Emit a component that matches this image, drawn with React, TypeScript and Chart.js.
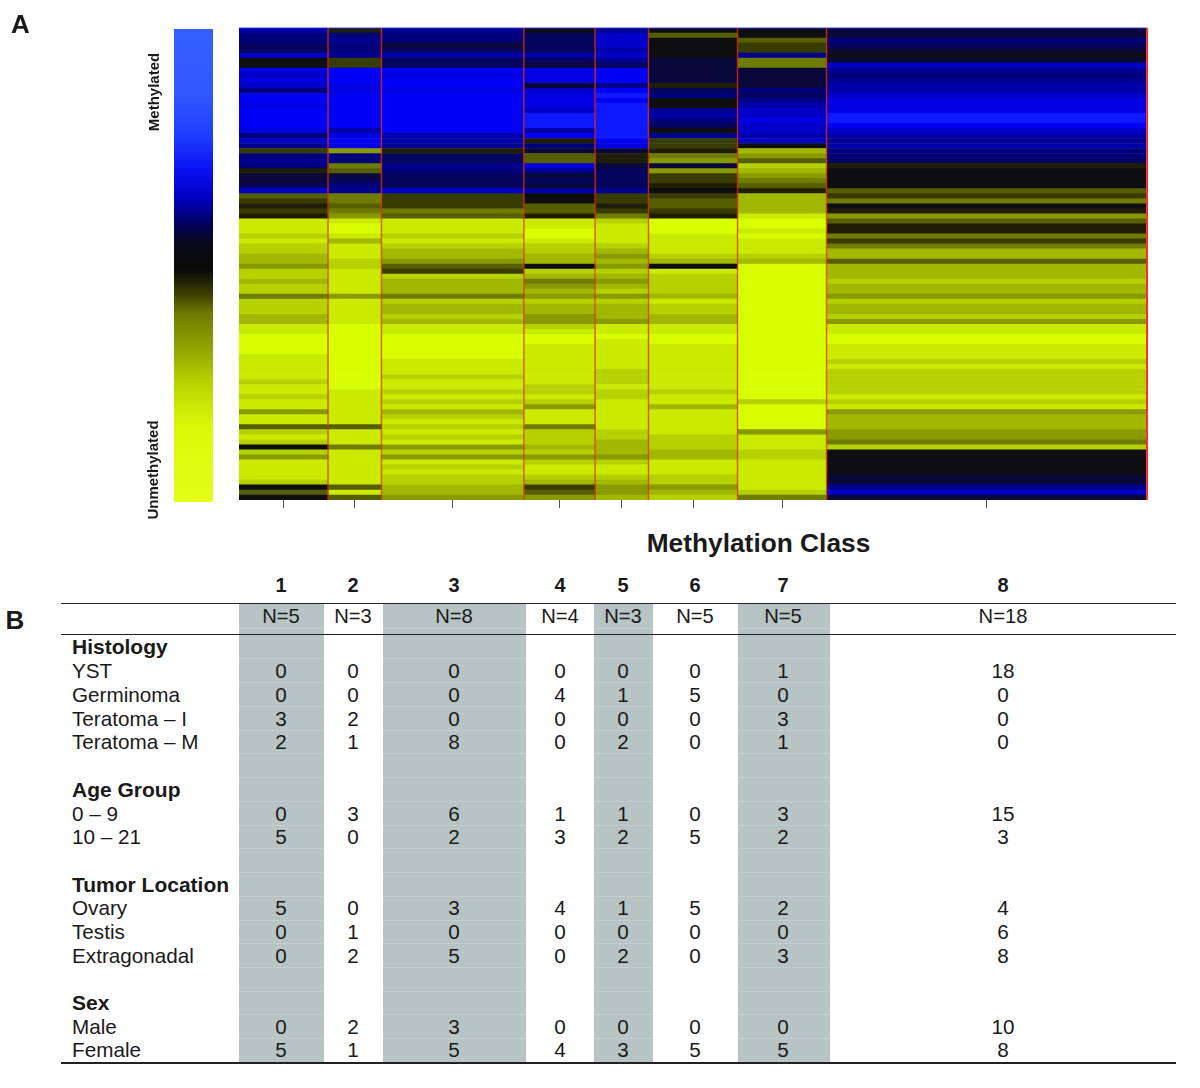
import React, { useEffect, useRef } from "react";
import { Chart, registerables } from "chart.js";

Chart.register(...registerables);

const classNames = ["1", "2", "3", "4", "5", "6", "7", "8"];
const classSizes = [5, 3, 8, 4, 3, 5, 5, 18];

// methylation level per band, top to bottom: + blue (methylated), - yellow (unmethylated)
const class1 = [
  5,3,3,2,2,6,0,0,7,6, 7,6,3,8,8,7,8,8,8,8, 7,3,6,4,-2,3,4,3,-1,1, 1,2,6,-3,-2,-1,-2,-1,-8,-8,
  -8,-7,-8,-7,-7,-6,-6,-5,-7,-7, -6,-7,-7,-4,-7,-7,-7,-6,-6,-8, -8,-9,-9,-9,-9,-8,-8,-8,-8,-8,
  -7,-8,-8,-7,-8,-8,-5,-8,-8,-3, -7,-8,-7,0,-7,-5,-8,-8,-8,-8, -7,0,-3,0,
];
const class2 = [
  -1,3,4,3,3,4,-2,-2,8,8, 8,7,7,8,8,8,8,8,8,8, 5,7,8,7,-5,3,3,-4,-3,1, 2,3,4,-4,-4,-3,-4,-5,-8,-9,
  -9,-8,-6,-8,-8,-8,-7,-7,-8,-8, -8,-8,-8,-5,-8,-8,-8,-8,-8,-9, -9,-9,-9,-9,-9,-9,-9,-9,-9,-9,
  -9,-9,-8,-8,-8,-8,-8,-8,-8,-3, -8,-8,-8,-4,-8,-8,-8,-8,-8,-8, -8,-3,-8,-3,
];
const class3 = [
  4,3,3,1,2,5,2,2,8,7, 8,8,7,8,8,8,8,8,8,8, 8,5,5,4,-1,2,2,4,3,2, 2,2,6,-2,-2,-2,-4,-3,-8,-8,
  -8,-7,-8,-7,-6,-6,-5,-3,-2,-7, -6,-6,-6,-4,-7,-6,-6,-7,-6,-8, -8,-9,-9,-9,-9,-9,-8,-8,-8,-7,
  -8,-8,-7,-8,-7,-8,-6,-7,-8,-7, -8,-7,-8,-5,-7,-5,-8,-7,-8,-7, -7,-6,-6,-5,
];
const class4 = [
  0,2,2,2,2,5,2,1,7,7, 7,1,6,7,7,7,6,9,9,9, 5,8,-1,3,1,-3,-3,7,4,1, 2,1,5,0,0,-3,-3,-1,-8,-8,
  -9,-9,-8,-7,-7,-6,-6,0,-7,-6, -4,-5,-6,-5,-7,-6,-6,-5,-5,-7, -8,-9,-9,-8,-8,-8,-8,-8,-8,-8,
  -8,-7,-7,-8,-7,-5,-8,-8,-8,-4, -7,-7,-7,-6,-7,-5,-7,-8,-8,-7, -6,-2,-3,-5,
];
const class5 = [
  4,6,6,6,5,6,4,2,8,8, 8,4,8,9,8,9,9,9,9,9, 9,9,8,7,1,-1,-1,1,2,2, 2,2,4,-2,-2,-1,-2,-4,-7,-8,
  -8,-8,-8,-7,-6,-5,-6,-5,-7,-6, -5,-6,-7,-5,-7,-6,-6,-6,-5,-8, -8,-9,-8,-8,-8,-8,-8,-8,-7,-7,
  -7,-8,-7,-7,-8,-8,-8,-8,-8,-8, -7,-7,-6,-6,-6,-5,-7,-8,-8,-7, -6,-5,-5,-6,
];
const class6 = [
  0,-3,0,0,0,0,1,1,1,1, 1,-1,2,3,0,0,4,5,3,2, 0,4,-2,-2,-1,-4,-5,1,-5,-2, -2,-1,0,-2,-3,-3,-2,-1,-9,-9,
  -9,-8,-8,-8,-8,-7,-6,0,-8,-7, -7,-7,-7,-6,-8,-7,-7,-6,-6,-8, -8,-9,-9,-8,-8,-8,-8,-8,-8,-8,
  -8,-8,-7,-8,-8,-6,-8,-8,-8,-8, -8,-7,-7,-7,-6,-6,-8,-8,-8,-7, -7,-5,-6,-7,
];
const class7 = [
  0,0,-3,-2,-2,4,-4,-4,1,1, 1,1,3,2,4,5,6,6,7,6, 6,5,6,0,-6,-5,-3,-7,-6,-5, -4,-3,-1,-6,-6,-6,-6,-8,-9,-9,
  -8,-9,-8,-8,-8,-7,-6,-9,-9,-9, -9,-9,-9,-9,-9,-9,-9,-9,-9,-9, -9,-9,-9,-9,-9,-9,-9,-9,-9,-9,
  -9,-9,-9,-9,-7,-9,-9,-9,-9,-9, -5,-8,-8,-8,-7,-7,-8,-8,-8,-8, -8,-8,-7,-4,
];
const class8 = [
  1,1,3,2,1,0,1,6,4,3, 4,5,5,6,7,7,7,9,9,8, 6,5,4,5,3,3,2,-1,0,0, 0,0,-3,-2,-4,0,-1,-5,-3,-1,
  -1,-4,-2,-4,-6,-6,-3,-6,-6,-6, -7,-6,-6,-5,-7,-6,-6,-7,-5,-8, -8,-9,-9,-8,-8,-8,-7,-8,-7,-7,
  -7,-7,-7,-8,-7,-8,-5,-6,-6,-6, -5,-5,-4,-7,0,0,0,0,0,1, 1,4,6,1,
];
const classLevels = [class1, class2, class3, class4, class5, class6, class7, class8];

const blueRamp = ["#0e0e10","#08083a","#05055e","#00007c","#00008f","#0000aa","#0000c8","#0000e0","#0000f5","#0f19ff"];
const yellowRamp = ["#0e0e10","#1e1e05","#373c00","#555f00","#6e7d00","#879b00","#a0b900","#b4d200","#c8eb00","#d8ff00"];
const colourOf = (v: number) => (v >= 0 ? blueRamp[v] : yellowRamp[-v]);

const colourbarStops: [number, string][] = [
  [0, "#3560ff"], [0.14, "#2f58ff"], [0.22, "#1f40ff"], [0.3, "#0a10f0"], [0.36, "#0000c0"],
  [0.41, "#000060"], [0.45, "#080820"], [0.49, "#0a0a0a"], [0.51, "#0a0a0a"], [0.56, "#3a4000"],
  [0.6, "#6a7a00"], [0.68, "#92a800"], [0.75, "#b8d400"], [0.84, "#dcf808"], [1, "#e4ff18"],
];

// table
const tableHeaderSizes = classSizes.map((n) => `N=${n}`);
const yst = [0, 0, 0, 0, 0, 0, 1, 18];
const germinoma = [0, 0, 0, 4, 1, 5, 0, 0];
const teratomaI = [3, 2, 0, 0, 0, 0, 3, 0];
const teratomaM = [2, 1, 8, 0, 2, 0, 1, 0];
const age0to9 = [0, 3, 6, 1, 1, 0, 3, 15];
const age10to21 = [5, 0, 2, 3, 2, 5, 2, 3];
const ovary = [5, 0, 3, 4, 1, 5, 2, 4];
const testis = [0, 1, 0, 0, 0, 0, 0, 6];
const extragonadal = [0, 2, 5, 0, 2, 0, 3, 8];
const male = [0, 2, 3, 0, 0, 0, 0, 10];
const female = [5, 1, 5, 4, 3, 5, 5, 8];

const tableRows: { label: string; y: number; values?: number[] }[] = [
  { label: "Histology", y: 646 },
  { label: "YST", y: 671, values: yst },
  { label: "Germinoma", y: 695, values: germinoma },
  { label: "Teratoma – I", y: 718.5, values: teratomaI },
  { label: "Teratoma – M", y: 742, values: teratomaM },
  { label: "Age Group", y: 789 },
  { label: "0 – 9", y: 813.5, values: age0to9 },
  { label: "10 – 21", y: 837, values: age10to21 },
  { label: "Tumor Location", y: 883.5 },
  { label: "Ovary", y: 908, values: ovary },
  { label: "Testis", y: 932, values: testis },
  { label: "Extragonadal", y: 955.5, values: extragonadal },
  { label: "Sex", y: 1001.5 },
  { label: "Male", y: 1026.5, values: male },
  { label: "Female", y: 1050, values: female },
];
const columnCentres = [281, 353, 454, 560, 623, 695, 783, 1003];
const shadedColumns = [[239, 324], [383, 526], [594, 653], [738, 830]];
const shadeSeams = [628, 658, 682, 706, 730, 753, 777, 801, 825, 848, 872, 896, 920, 943, 967, 991, 1014, 1038];

const FONT = '"Liberation Sans", Arial, sans-serif';

const classBoundaries = classSizes.reduce<number[]>((acc, n) => {
  acc.push((acc[acc.length - 1] ?? 0) + n);
  return acc;
}, []);
const classCentres = classSizes.map((n, i) => (classBoundaries[i] - n) + n / 2);

const separators = {
  id: "classSeparators",
  afterDatasetsDraw(chart: any) {
    const { ctx, chartArea, scales } = chart;
    ctx.save();
    classBoundaries.forEach((b, i) => {
      const x = scales.x.getPixelForValue(b);
      const last = i === classBoundaries.length - 1;
      ctx.strokeStyle = last ? "rgba(255,45,45,1)" : "rgba(235,45,0,0.8)";
      ctx.lineWidth = last ? 2 : 1.4;
      ctx.beginPath();
      ctx.moveTo(x, chartArea.top);
      ctx.lineTo(x, chartArea.bottom);
      ctx.stroke();
    });
    ctx.strokeStyle = "rgba(50,50,255,0.9)";
    ctx.lineWidth = 1;
    ctx.beginPath();
    ctx.moveTo(chartArea.left, chartArea.top);
    ctx.lineTo(chartArea.right, chartArea.top);
    ctx.stroke();
    ctx.restore();
  },
};

function Label({ x, y, size, bold, children, anchor = "center", rotate }: any) {
  const tx = anchor === "center" ? "-50%" : "0";
  return (
    <span
      style={{
        position: "absolute",
        left: x,
        top: y,
        fontFamily: FONT,
        fontSize: size,
        fontWeight: bold ? 700 : 400,
        lineHeight: 1,
        color: "#1a1a1a",
        whiteSpace: "nowrap",
        transform: `translate(${tx},-50%)${rotate ? ` rotate(${rotate}deg)` : ""}`,
      }}
    >
      {children}
    </span>
  );
}

export default function App() {
  const heatRef = useRef<HTMLCanvasElement>(null);
  const barRef = useRef<HTMLCanvasElement>(null);

  useEffect(() => {
    const rows = class1.map((_, i) => String(i));
    const heat = new Chart(heatRef.current!, {
      type: "bar",
      data: {
        labels: rows,
        datasets: classNames.map((name, c) => ({
          label: name,
          data: rows.map(() => classSizes[c]),
          backgroundColor: classLevels[c].map(colourOf),
          borderWidth: 0,
          categoryPercentage: 1,
          barPercentage: 1,
        })),
      },
      options: {
        indexAxis: "y",
        responsive: false,
        animation: false,
        events: [],
        layout: { padding: { left: 239, right: 53, top: 28, bottom: 12 } },
        plugins: { legend: { display: false }, tooltip: { enabled: false } },
        scales: {
          x: {
            type: "linear",
            stacked: true,
            min: 0,
            max: 51,
            border: { display: false },
            grid: { drawOnChartArea: false, drawTicks: true, tickLength: 8, color: "#555", lineWidth: 1 },
            ticks: { display: false, autoSkip: false },
            afterBuildTicks: (axis: any) => {
              axis.ticks = classCentres.map((value) => ({ value }));
            },
            afterFit: (axis: any) => {
              axis.height = 8;
            },
          },
          y: { type: "category", stacked: true, display: false },
        },
      },
      plugins: [separators],
    } as any);

    const bar = new Chart(barRef.current!, {
      type: "bar",
      data: {
        labels: ["scale"],
        datasets: [
          {
            data: [1],
            borderWidth: 0,
            categoryPercentage: 1,
            barPercentage: 1,
            backgroundColor: (ctx: any) => {
              const area = ctx.chart.chartArea;
              if (!area) return "#000";
              const g = ctx.chart.ctx.createLinearGradient(0, area.top, 0, area.bottom);
              colourbarStops.forEach(([o, c]) => g.addColorStop(o, c));
              return g;
            },
          },
        ],
      },
      options: {
        responsive: false,
        animation: false,
        events: [],
        plugins: { legend: { display: false }, tooltip: { enabled: false } },
        scales: {
          x: { display: false },
          y: { display: false, min: 0, max: 1 },
        },
      },
    } as any);

    return () => {
      heat.destroy();
      bar.destroy();
    };
  }, []);

  return (
    <div style={{ position: "absolute", left: 0, top: 0, width: 1200, height: 1088, background: "#fff", overflow: "hidden" }}>
      <canvas ref={heatRef} width={1200} height={520} style={{ position: "absolute", left: 0, top: 0 }} />
      <canvas ref={barRef} width={39} height={473} style={{ position: "absolute", left: 174, top: 29 }} />

      <Label x={20.5} y={24} size={26} bold>A</Label>
      <Label x={15} y={620} size={26} bold>B</Label>
      <Label x={153} y={92} size={15} bold rotate={-90}>Methylated</Label>
      <Label x={152} y={470} size={15} bold rotate={-90}>Unmethylated</Label>
      <Label x={758.5} y={543} size={26.3} bold>Methylation Class</Label>

      {shadedColumns.map(([a, b]) => (
        <div key={a} style={{ position: "absolute", left: a, top: 603, width: b - a, height: 459, background: "#b8c4c4" }}>
          {shadeSeams.map((y) => (
            <div key={y} style={{ position: "absolute", left: 0, right: 0, top: y - 603, height: 1, background: "#c3cdcd" }} />
          ))}
        </div>
      ))}
      {[603, 634, 1062].map((y) => (
        <div key={y} style={{ position: "absolute", left: 61, top: y - 0.5, width: 1115, height: y === 1062 ? 2 : 1, background: "#222" }} />
      ))}

      {classNames.map((n, i) => (
        <Label key={n} x={columnCentres[i]} y={585} size={20} bold>{n}</Label>
      ))}
      {tableHeaderSizes.map((n, i) => (
        <Label key={i} x={columnCentres[i]} y={616} size={20.2}>{n}</Label>
      ))}
      {tableRows.map((r) => (
        <React.Fragment key={r.label}>
          <Label x={72} y={r.y} size={r.values ? 20.7 : 21} bold={!r.values} anchor="start">{r.label}</Label>
          {r.values?.map((v, i) => (
            <Label key={i} x={columnCentres[i]} y={r.y} size={20.7}>{v}</Label>
          ))}
        </React.Fragment>
      ))}
    </div>
  );
}
